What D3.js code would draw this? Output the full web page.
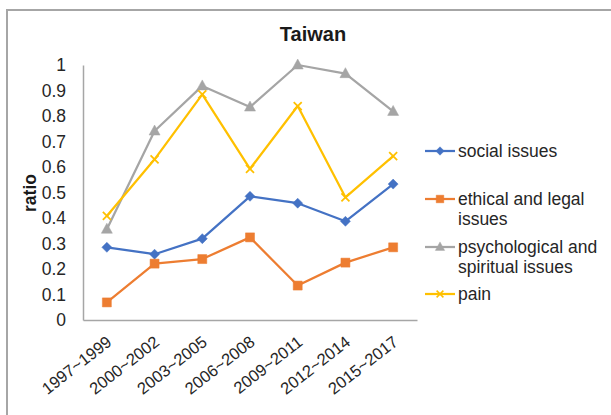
<!DOCTYPE html>
<html>
<head>
<meta charset="utf-8">
<script src="https://cdn.jsdelivr.net/npm/d3@7"></script>
<style>
  body { margin: 0; background: #fff; }
  svg { display: block; font-family: "Liberation Sans", Arial, sans-serif; }
</style>
</head>
<body>
<div id="chart"></div>
<script>
// chart data
const periods = ["1997~1999", "2000~2002", "2003~2005", "2006~2008", "2009~2011", "2012~2014", "2015~2017"];
const socialIssues = [0.285, 0.258, 0.319, 0.485, 0.458, 0.387, 0.533];
const ethicalLegal = [0.069, 0.221, 0.239, 0.324, 0.135, 0.225, 0.285];
const psychSpiritual = [0.356, 0.741, 0.918, 0.835, 1.0, 0.966, 0.818];
const pain = [0.408, 0.630, 0.885, 0.593, 0.839, 0.481, 0.643];
const yTicks = [0, 0.1, 0.2, 0.3, 0.4, 0.5, 0.6, 0.7, 0.8, 0.9, 1];
const yTickLabels = ["0", "0.1", "0.2", "0.3", "0.4", "0.5", "0.6", "0.7", "0.8", "0.9", "1"];

const series = [
  { name: ["social issues"], values: socialIssues, color: "#4472C4", marker: "diamond" },
  { name: ["ethical and legal", "issues"], values: ethicalLegal, color: "#ED7D31", marker: "square" },
  { name: ["psychological and", "spiritual issues"], values: psychSpiritual, color: "#A5A5A5", marker: "triangle" },
  { name: ["pain"], values: pain, color: "#FFC000", marker: "cross" }
];

const width = 611, height = 415;
const margin = { top: 65, right: 194, bottom: 95, left: 83 };

const svg = d3.select("#chart").append("svg")
  .attr("width", width)
  .attr("height", height);

// chart area border (runs off the right and bottom edges)
svg.append("rect")
  .attr("x", 7).attr("y", 10)
  .attr("width", 620).attr("height", 420)
  .attr("fill", "none")
  .attr("stroke", "#a6a6a6")
  .attr("stroke-width", 2);

// title
svg.append("text")
  .attr("x", 313).attr("y", 41)
  .attr("text-anchor", "middle")
  .attr("font-size", "20px")
  .attr("font-weight", "bold")
  .attr("fill", "#1a1a1a")
  .text("Taiwan");

// scales
const x = d3.scaleBand()
  .domain(periods)
  .range([margin.left, width - margin.right]);

const y = d3.scaleLinear()
  .domain([0, 1])
  .range([height - margin.bottom, margin.top]);

// y axis
const yAxis = svg.append("g")
  .attr("transform", `translate(${margin.left},0)`)
  .call(d3.axisLeft(y)
    .tickValues(yTicks)
    .tickFormat((d, i) => yTickLabels[i])
    .tickSize(0)
    .tickPadding(17));
yAxis.select(".domain").attr("stroke", "#a6a6a6").attr("stroke-width", 1.5);
yAxis.selectAll("text")
  .attr("font-size", "17.5px")
  .attr("font-family", "Liberation Sans, Arial, sans-serif")
  .attr("fill", "#262626");

// x axis
const xAxis = svg.append("g")
  .attr("transform", `translate(0,${height - margin.bottom})`)
  .call(d3.axisBottom(x).tickSize(0));
xAxis.select(".domain").attr("stroke", "#a6a6a6").attr("stroke-width", 1.5);
xAxis.selectAll("text")
  .attr("x", 0).attr("y", 0).attr("dy", 0)
  .attr("transform", "translate(6,24) rotate(-38)")
  .style("text-anchor", "end")
  .attr("font-size", "16.5px")
  .attr("font-family", "Liberation Sans, Arial, sans-serif")
  .attr("fill", "#262626");

// y axis title
svg.append("text")
  .attr("transform", "translate(36,193) rotate(-90)")
  .attr("text-anchor", "middle")
  .attr("font-size", "17.5px")
  .attr("font-weight", "bold")
  .attr("fill", "#1a1a1a")
  .text("ratio");

// marker paths centred on 0,0
function markerPath(type) {
  if (type === "diamond") return "M0,-5L5,0L0,5L-5,0Z";
  if (type === "square") return "M-4.5,-4.5H4.5V4.5H-4.5Z";
  if (type === "triangle") return "M0,-6L5.5,4H-5.5Z";
  return "M-4,-4L4,4M-4,4L4,-4";
}

function drawMarker(g, type, color) {
  const p = g.append("path").attr("d", markerPath(type));
  if (type === "cross") {
    p.attr("fill", "none").attr("stroke", color).attr("stroke-width", 1.8);
  } else {
    p.attr("fill", color).attr("stroke", color).attr("stroke-width", 0.5);
  }
}

const line = d3.line()
  .x((d, i) => x(periods[i]) + x.bandwidth() / 2)
  .y(d => y(d));

series.forEach(s => {
  svg.append("path")
    .datum(s.values)
    .attr("fill", "none")
    .attr("stroke", s.color)
    .attr("stroke-width", 2.25)
    .attr("stroke-linejoin", "round")
    .attr("d", line);

  s.values.forEach((v, i) => {
    const g = svg.append("g")
      .attr("transform", `translate(${x(periods[i]) + x.bandwidth() / 2},${y(v)})`);
    drawMarker(g, s.marker, s.color);
  });
});

// legend
const legendRows = [157, 205, 253, 300];
series.forEach((s, k) => {
  const base = legendRows[k];
  const g = svg.append("g");
  g.append("line")
    .attr("x1", 425).attr("x2", 455)
    .attr("y1", base - 6).attr("y2", base - 6)
    .attr("stroke", s.color)
    .attr("stroke-width", 2.25);
  const m = g.append("g").attr("transform", `translate(440,${base - 6}) scale(0.85)`);
  drawMarker(m, s.marker, s.color);
  s.name.forEach((t, j) => {
    g.append("text")
      .attr("x", 458)
      .attr("y", base + j * 20)
      .attr("font-size", "17.5px")
      .attr("fill", "#262626")
      .text(t);
  });
});
</script>
</body>
</html>
